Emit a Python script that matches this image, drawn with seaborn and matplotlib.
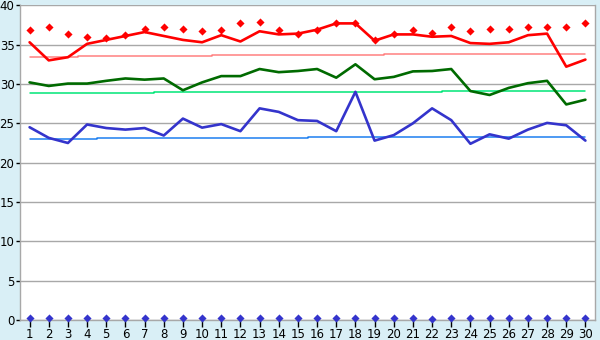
import numpy as np
import pandas as pd
import matplotlib
matplotlib.use("Agg")
import matplotlib.pyplot as plt
import seaborn as sns

days = list(range(1, 31))

red_line = [35.3, 33.0, 33.4, 35.1, 35.6, 36.1, 36.6, 36.1, 35.6, 35.3,
            36.2, 35.4, 36.7, 36.3, 36.4, 36.9, 37.7, 37.7, 35.5, 36.3,
            36.3, 36.0, 36.1, 35.2, 35.1, 35.3, 36.2, 36.4, 32.2, 33.1]
red_pts = [36.8, 37.2, 36.3, 36.0, 35.9, 36.2, 37.0, 37.2, 37.0, 36.7,
           36.8, 37.8, 37.9, 36.8, 36.4, 36.9, 37.7, 37.7, 35.6, 36.4,
           36.8, 36.5, 37.2, 36.7, 37.0, 37.0, 37.3, 37.2, 37.2, 37.8]
red_norm = [33.45] * 3 + [33.6] * 7 + [33.72] * 9 + [33.85] * 11
green_line = [30.2, 29.75, 30.05, 30.05, 30.4, 30.7, 30.55, 30.7, 29.2, 30.2,
              31.0, 31.0, 31.9, 31.5, 31.65, 31.9, 30.8, 32.5, 30.6, 30.9,
              31.6, 31.65, 31.9, 29.1, 28.6, 29.5, 30.1, 30.4, 27.4, 28.0]
green_norm = [28.8] * 7 + [28.92] * 15 + [29.08] * 8
blue_line = [24.5, 23.15, 22.5, 24.85, 24.4, 24.2, 24.4, 23.45, 25.6, 24.45,
             24.9, 24.0, 26.9, 26.45, 25.4, 25.3, 24.0, 29.0, 22.8, 23.5,
             25.0, 26.9, 25.4, 22.4, 23.6, 23.05, 24.2, 25.05, 24.75, 22.8]
blue_norm = [23.0] * 4 + [23.1] * 11 + [23.22] * 15
blue_pts = [0.25] * 21 + [0.1] + [0.25] * 8

y_ticks = [0, 5, 10, 15, 20, 25, 30, 35, 40]

df = pd.DataFrame({"day": days, "red": red_line, "redp": red_pts, "redn": red_norm,
                   "green": green_line, "greenn": green_norm,
                   "blue": blue_line, "bluen": blue_norm, "bluep": blue_pts})

sns.set_theme(style="white")
plt.rcParams['font.family'] = ['DejaVu Sans']

bg = '#D9EFF6'
fig = plt.figure(figsize=(6, 3.4), dpi=100, facecolor=bg)
ax = fig.add_axes([20 / 600, 20 / 340, 575 / 600, 314.7 / 340])
ax.set_facecolor('white')

for y in y_ticks:
    ax.axhline(y, color='#A8A8A8', lw=1.0, zorder=0)

sns.lineplot(data=df, x="day", y="redn", ax=ax, color='#FF8080', lw=1.1,
             drawstyle='steps-mid', zorder=2)
sns.lineplot(data=df, x="day", y="greenn", ax=ax, color='#00E676', lw=1.1,
             drawstyle='steps-mid', zorder=2)
sns.lineplot(data=df, x="day", y="bluen", ax=ax, color='#1C7FF0', lw=1.1,
             drawstyle='steps-mid', zorder=2)
sns.lineplot(data=df, x="day", y="red", ax=ax, color='#FF0000', lw=1.9, zorder=3)
sns.lineplot(data=df, x="day", y="green", ax=ax, color='#006A00', lw=1.9, zorder=3)
sns.lineplot(data=df, x="day", y="blue", ax=ax, color='#3434CC', lw=1.9, zorder=3)
sns.scatterplot(data=df, x="day", y="redp", ax=ax, color='#FF0000', marker='D',
                s=17, linewidth=0, zorder=4)
sns.scatterplot(data=df, x="day", y="bluep", ax=ax, color='#3434CC', marker='D',
                s=17, linewidth=0, zorder=4, clip_on=False)

ax.set_xlim(0.5, 30.5)
ax.set_ylim(0, 40)
ax.set_xticks(days)
ax.set_xticklabels([str(d) for d in days])
ax.set_yticks(y_ticks)
ax.set_yticklabels([str(v) for v in y_ticks])
ax.set_xlabel('')
ax.set_ylabel('')
ax.tick_params(axis='x', direction='out', length=5, width=1, color='black',
               labelcolor='black', labelsize=8.5, pad=1, bottom=True)
ax.tick_params(axis='y', direction='out', length=3, width=1, color='black',
               labelcolor='black', labelsize=8.5, pad=1, left=True)
for s in ['left', 'right', 'bottom']:
    ax.spines[s].set_color('#A8A8A8')
    ax.spines[s].set_linewidth(1.0)
ax.spines['top'].set_visible(False)

fig.savefig('out.png', dpi=100, facecolor=bg)
